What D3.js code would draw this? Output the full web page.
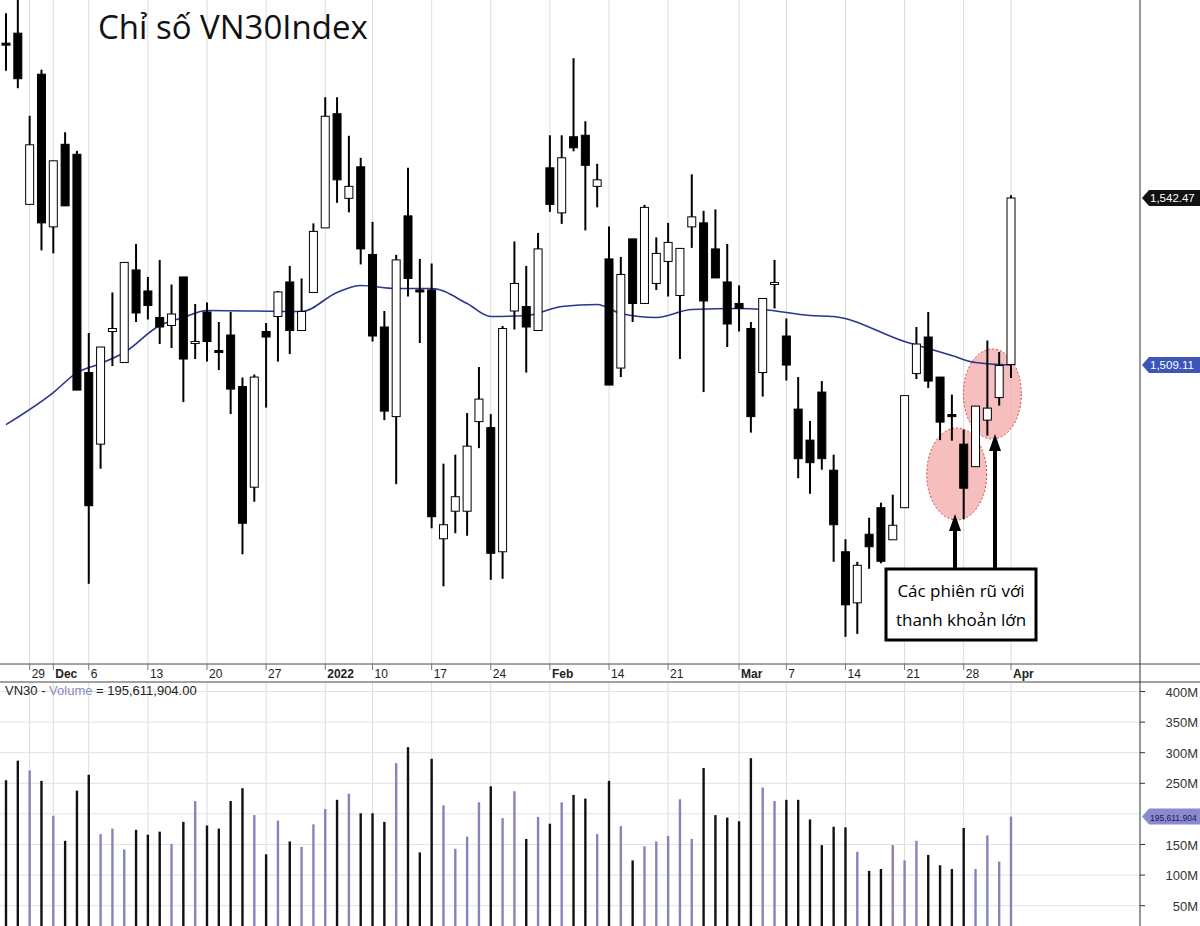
<!DOCTYPE html>
<html>
<head>
<meta charset="utf-8">
<script src="https://cdn.jsdelivr.net/npm/d3@7"></script>
<style>
  body { margin: 0; background: #fff; }
  svg { display: block; font-family: "Liberation Sans", Arial, sans-serif; }
</style>
</head>
<body>
<svg id="chart" width="1200" height="926"></svg>
<script>
'use strict';

// daily candles, Nov 25 2021 .. Apr 1 2022 (open, high, low, close)
const opens  = [1573.4,1575.4,1541.2,1567.2,1536.7,1553.2,1551.2,1507.6,1493.3,1515.8,1509.6,1528.1,1523.9,1518.6,1517.0,1526.7,1513.4,1519.7,1512.0,1515.1,1504.8,1484.7,1515.8,1518.8,1525.7,1516.0,1523.6,1536.5,1559.3,1542.4,1548.7,1531.2,1516.7,1498.8,1538.9,1524.1,1524.1,1474.4,1479.9,1479.9,1497.8,1496.6,1471.8,1519.9,1520.8,1516.0,1548.5,1539.5,1554.7,1555.0,1544.8,1530.3,1508.5,1534.3,1521.4,1525.4,1529.8,1523.0,1536.7,1537.5,1532.3,1525.7,1521.4,1516.4,1507.6,1525.2,1514.9,1500.3,1494.1,1503.7,1488.1,1471.8,1461.6,1475.3,1480.6,1474.2,1480.6,1507.4,1514.7,1506.7,1499.2,1493.3,1488.8,1498.1,1502.6,1509.2];
const highs  = [1579.4,1583.0,1558.9,1568.1,1549.9,1555.6,1551.9,1515.5,1512.7,1523.6,1529.6,1533.3,1526.7,1530.1,1525.2,1526.7,1521.3,1521.6,1517.7,1519.7,1506.6,1507.2,1517.5,1523.9,1528.9,1526.4,1537.4,1562.6,1562.6,1554.9,1550.5,1537.7,1519.9,1531.1,1548.5,1530.3,1529.4,1489.4,1491.2,1499.5,1508.7,1499.3,1516.9,1533.8,1528.9,1535.5,1555.0,1555.0,1570.4,1557.8,1549.3,1536.8,1530.7,1534.3,1541.1,1534.6,1537.5,1532.4,1547.2,1539.9,1540.2,1533.3,1525.0,1517.7,1522.4,1530.1,1518.4,1506.7,1497.9,1505.9,1491.2,1474.3,1469.8,1478.6,1481.6,1483.2,1503.0,1516.7,1519.7,1506.7,1503.2,1496.2,1500.9,1514.0,1511.7,1543.0];
const lows   = [1567.9,1564.4,1541.2,1532.0,1531.4,1540.9,1504.1,1465.4,1488.4,1508.9,1509.6,1517.7,1518.2,1513.3,1512.5,1501.7,1510.3,1509.8,1508.1,1499.3,1471.3,1481.8,1500.6,1509.8,1511.3,1516.0,1523.6,1536.5,1541.5,1539.6,1529.2,1513.8,1498.1,1485.3,1522.8,1513.5,1476.5,1464.9,1475.5,1475.0,1492.5,1466.2,1466.4,1516.2,1507.6,1516.0,1539.7,1537.3,1551.8,1536.0,1540.6,1505.1,1506.7,1517.7,1521.4,1524.1,1522.8,1510.3,1532.5,1503.7,1526.5,1512.7,1515.8,1495.6,1502.8,1520.4,1506.0,1486.5,1483.4,1488.2,1469.8,1454.8,1455.4,1468.4,1469.5,1474.2,1480.6,1506.3,1504.5,1494.1,1494.0,1478.3,1488.8,1495.0,1501.0,1506.5];
const closes = [1573.0,1566.3,1553.1,1537.5,1549.9,1540.9,1504.1,1481.0,1512.7,1516.4,1529.6,1519.5,1521.0,1516.7,1519.3,1510.3,1513.8,1513.8,1511.6,1504.3,1477.5,1506.7,1514.7,1523.7,1516.0,1519.8,1535.8,1558.8,1546.1,1544.8,1532.3,1514.9,1499.9,1530.1,1526.4,1523.7,1478.8,1477.2,1482.8,1492.9,1502.3,1471.5,1516.4,1525.4,1516.7,1532.3,1541.2,1550.5,1552.5,1549.0,1546.1,1505.1,1527.2,1521.4,1540.6,1531.4,1533.6,1532.4,1538.7,1521.9,1526.5,1517.3,1520.4,1498.8,1522.4,1525.6,1509.1,1490.4,1489.6,1490.4,1477.2,1461.2,1469.1,1472.8,1469.9,1477.1,1503.0,1513.3,1505.9,1497.7,1498.8,1484.5,1500.9,1500.5,1509.0,1542.47];

// volume in millions of shares
const volumes = [255,287,271,254,197,156,238,264,167,176,142,174,166,171,151,187,221,181,176,221,242,198,134,189,155,146,183,208,223,233,201,201,187,283,309,137,290,214,143,163,219,245,193,237,159,195,184,219,231,225,167,254,180,124,147,155,164,224,159,275,198,194,188,291,243,221,223,223,191,149,179,178,138,107,110,149,124,156,133,116,110,177,110,165,122,195.6];

// moving average read at selected sessions: [session index, value]
const maPoints = [[0,1497.2],[4,1503.6],[6,1507.6],[8,1509.4],[10,1511.6],[13,1517],[15,1518.6],[17,1520],[25,1519.8],[28,1523.6],[30,1525],[33,1524.4],[36,1524.4],[39,1521.4],[41,1518.8],[44,1519],[47,1520.8],[50,1521.2],[52,1519.4],[55,1518.6],[58,1520.2],[62,1520.4],[64,1520.2],[68,1519],[70,1518.8],[76,1513.8],[78,1512.4],[80,1511],[82,1509.6],[85,1509.11]];

const dateTicks = [[2,'29',false],[4,'Dec',true],[7,'6',false],[12,'13',false],[17,'20',false],[22,'27',false],[27,'2022',true],[31,'10',false],[36,'17',false],[41,'24',false],[46,'Feb',true],[51,'14',false],[56,'21',false],[62,'Mar',true],[66,'7',false],[71,'14',false],[76,'21',false],[81,'28',false],[85,'Apr',true]];
const volTicks = [50,100,150,200,250,300,350,400];

const svg = d3.select('#chart');
const upColor = '#8484bc';
const plotRight = 1140;
const sans = '"Open Sans", "Noto Sans", sans-serif';

const x = d3.scaleLinear().domain([0, 85]).range([6, 1011]);
const y = d3.scaleLinear().domain([1509.11, 1542.47]).range([365, 198]);
const yv = d3.scaleLinear().domain([0, 400]).range([936.3, 691.5]);

const candles = opens.map((o, i) => ({i: i, o: o, h: highs[i], l: lows[i], c: closes[i], v: volumes[i]}));

// vertical grid
svg.append('g').selectAll('line').data(dateTicks).enter().append('line')
    .attr('x1', (d) => x(d[0])).attr('x2', (d) => x(d[0]))
    .attr('y1', 0).attr('y2', 926)
    .attr('stroke', '#dcdcdc').attr('stroke-width', 1);

// volume horizontal grid
svg.append('g').selectAll('line').data(volTicks).enter().append('line')
    .attr('x1', 0).attr('x2', plotRight)
    .attr('y1', (d) => yv(d)).attr('y2', (d) => yv(d))
    .attr('stroke', '#e2e2e2');

// date axis band
svg.append('rect').attr('x', 0).attr('y', 664).attr('width', plotRight).attr('height', 18).attr('fill', '#fff');
svg.append('line').attr('x1', 0).attr('x2', 1200).attr('y1', 664).attr('y2', 664).attr('stroke', '#444');
svg.append('line').attr('x1', 0).attr('x2', 1200).attr('y1', 682).attr('y2', 682).attr('stroke', '#444');
svg.append('line').attr('x1', plotRight).attr('x2', plotRight).attr('y1', 0).attr('y2', 926).attr('stroke', '#333');

const dt = svg.append('g').selectAll('g').data(dateTicks).enter().append('g');
dt.append('line')
    .attr('x1', (d) => x(d[0])).attr('x2', (d) => x(d[0]))
    .attr('y1', 664).attr('y2', 670).attr('stroke', '#777');
dt.append('text')
    .attr('x', (d) => x(d[0]) + 2).attr('y', 678)
    .attr('font-size', 12).attr('fill', '#222')
    .attr('font-weight', (d) => d[2] ? 'bold' : 'normal')
    .text((d) => d[1]);

// annotation ellipses (under the candles)
const ann = svg.append('g');
ann.append('ellipse').attr('cx', x(81) - 7).attr('cy', 474).attr('rx', 30).attr('ry', 46)
    .attr('fill', '#f4a8a8').attr('fill-opacity', 0.75)
    .attr('stroke', '#d04040').attr('stroke-dasharray', '2,2');
ann.append('ellipse').attr('cx', x(83) + 5).attr('cy', 394).attr('rx', 29).attr('ry', 45)
    .attr('fill', '#f4a8a8').attr('fill-opacity', 0.75)
    .attr('stroke', '#d04040').attr('stroke-dasharray', '2,2');

// moving average
svg.append('path').datum(maPoints)
    .attr('d', d3.line().x((d) => x(d[0])).y((d) => y(d[1])).curve(d3.curveMonotoneX))
    .attr('fill', 'none').attr('stroke', '#2a3590').attr('stroke-width', 1.6);

// candles
const cw = 8;
const cg = svg.append('g').selectAll('g').data(candles).enter().append('g');
cg.append('line')
    .attr('x1', (d) => x(d.i)).attr('x2', (d) => x(d.i))
    .attr('y1', (d) => y(d.h)).attr('y2', (d) => y(d.l))
    .attr('stroke', '#000').attr('stroke-width', 2);
cg.append('rect')
    .attr('x', (d) => x(d.i) - cw / 2)
    .attr('y', (d) => y(Math.max(d.o, d.c)))
    .attr('width', cw)
    .attr('height', (d) => Math.max(2, Math.abs(y(d.o) - y(d.c))))
    .attr('fill', (d) => d.c >= d.o ? '#fff' : '#000')
    .attr('stroke', '#000').attr('stroke-width', 1);

// volume bars
svg.append('g').selectAll('line').data(candles).enter().append('line')
    .attr('x1', (d) => x(d.i)).attr('x2', (d) => x(d.i))
    .attr('y1', (d) => yv(d.v)).attr('y2', 926)
    .attr('stroke', (d) => d.c >= d.o ? upColor : '#111')
    .attr('stroke-width', 2.4);

// volume axis
const va = svg.append('g').selectAll('g').data(volTicks.filter((d) => d !== 200)).enter().append('g');
va.append('line').attr('x1', plotRight).attr('x2', plotRight + 5)
    .attr('y1', (d) => yv(d)).attr('y2', (d) => yv(d)).attr('stroke', '#333');
va.append('text').attr('x', 1198).attr('y', (d) => yv(d) + 5)
    .attr('text-anchor', 'end').attr('font-size', 13).attr('fill', '#333')
    .text((d) => d + 'M');

// last-value tags
function tag(yPos, fill, color, label, fs)
{
    svg.append('path')
        .attr('d', `M${plotRight + 2},${yPos} L${plotRight + 9},${yPos - 8} H1200 V${yPos + 8} H${plotRight + 9} Z`)
        .attr('fill', fill);
    svg.append('text').attr('x', plotRight + 10).attr('y', yPos + 4)
        .attr('font-size', fs).attr('fill', color).text(label);
}
tag(y(closes[85]), '#111', '#fff', d3.format(',.2f')(closes[85]), 11.5);
tag(y(1509.11), '#3b55b8', '#fff', '1,509.11', 11.5);
tag(yv(volumes[85]), '#8a8ad0', '#1a1a50', '195,611,904', 8.5);

// volume caption
const cap = svg.append('text').attr('x', 5).attr('y', 695).attr('font-size', 13).attr('fill', '#222');
cap.append('tspan').text('VN30 - ');
cap.append('tspan').attr('fill', '#8a8ab8').text('Volume');
cap.append('tspan').text(' = 195,611,904.00');

// title
svg.append('text').attr('x', 98).attr('y', 39)
    .attr('font-family', sans)
    .attr('font-size', 33).attr('fill', '#111')
    .text('Chỉ số VN30Index');

function arrow(ax, yTip, yBase)
{
    ann.append('line').attr('x1', ax).attr('x2', ax).attr('y1', yTip + 14).attr('y2', yBase)
        .attr('stroke', '#000').attr('stroke-width', 4);
    ann.append('path').attr('d', `M${ax},${yTip} L${ax - 6},${yTip + 17} L${ax + 6},${yTip + 17} Z`).attr('fill', '#000');
}
arrow(955, 514, 570);
arrow(995, 434, 570);

const box = svg.append('g');
box.append('rect').attr('x', 886).attr('y', 569).attr('width', 150).attr('height', 71)
    .attr('fill', '#fff').attr('stroke', '#000').attr('stroke-width', 3);
box.append('text').attr('x', 961).attr('y', 597).attr('text-anchor', 'middle')
    .attr('font-family', sans).attr('font-size', 17).text('Các phiên rũ với');
box.append('text').attr('x', 961).attr('y', 626).attr('text-anchor', 'middle')
    .attr('font-family', sans).attr('font-size', 17).text('thanh khoản lớn');
</script>
</body>
</html>
